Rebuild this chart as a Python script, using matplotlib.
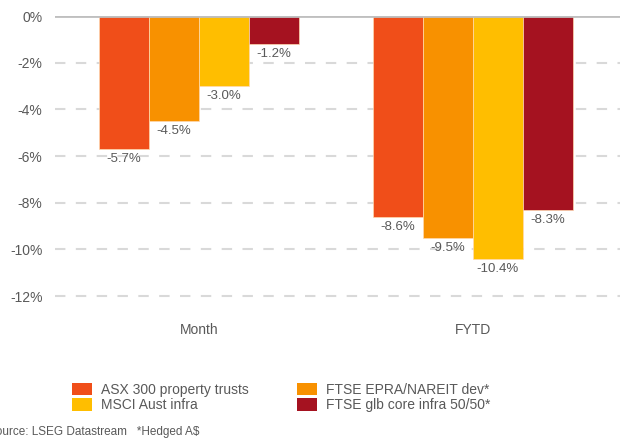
import matplotlib.pyplot as plt
from matplotlib.patches import Patch
import numpy as np

categories = ['Month', 'FYTD']
series_names = ['ASX 300 property trusts', 'FTSE EPRA/NAREIT dev*',
                'MSCI Aust infra', 'FTSE glb core infra 50/50*']
values = [
    [-5.7, -8.6],
    [-4.5, -9.5],
    [-3.0, -10.4],
    [-1.2, -8.3],
]
colors = ['#F04E19', '#F89100', '#FFBE00', '#A51220']
yticks = [0, -2, -4, -6, -8, -10, -12]

plt.rcParams['font.family'] = ['Liberation Sans', 'DejaVu Sans']
text_color = '#595959'

fig = plt.figure(figsize=(6.27, 4.40), dpi=100)
ax = fig.add_axes([55 / 627, 1 - 310 / 440, 565 / 627, 294 / 440])

x = np.arange(len(categories))
width = 0.182
for i, (name, vals) in enumerate(zip(series_names, values)):
    pos = x + (i - 1.5) * width
    ax.bar(pos, vals, width, color=colors[i], edgecolor='#FFD9B0', linewidth=0.5, zorder=3)
    for px, v in zip(pos, vals):
        ax.annotate(f'{v:.1f}%', (px, v), xytext=(0, -3), textcoords='offset points',
                    ha='center', va='top', fontsize=9.5, color=text_color)

ax.set_xlim((55 - 199) / 274, (620 - 199) / 274)
ax.set_ylim(-12.6, 0)
ax.set_yticks(yticks)
ax.set_yticklabels([f'{t}%' for t in yticks])
ax.set_xticks(x)
ax.set_xticklabels(categories)
ax.tick_params(length=0, labelsize=10, colors=text_color)
ax.tick_params(axis='x', pad=9)
ax.tick_params(axis='y', pad=9)
for t in yticks[1:]:
    ax.axhline(t, color='#D9D9D9', linestyle=(0, (5, 5)), linewidth=1.5, zorder=1)
ax.axhline(0, color='#BFBFBF', linewidth=2, zorder=4)
for s in ax.spines.values():
    s.set_visible(False)

handles = [Patch(facecolor=c, label=n) for c, n in zip(colors, series_names)]
order = [0, 2, 1, 3]
fig.legend([handles[i] for i in order], [series_names[i] for i in order],
           ncol=2, loc='upper left', bbox_to_anchor=(59 / 627, 1 - 370 / 440),
           frameon=False, fontsize=10, handlelength=1.45, handleheight=1.05,
           labelspacing=0.1, columnspacing=3.5, handletextpad=0.65, labelcolor=text_color)

fig.text(-12 / 627, 1 - 432 / 440, 'Source: LSEG Datastream   *Hedged A$', fontsize=8.5,
         color=text_color, va='center', ha='left')

plt.savefig('out.png', dpi=100)
